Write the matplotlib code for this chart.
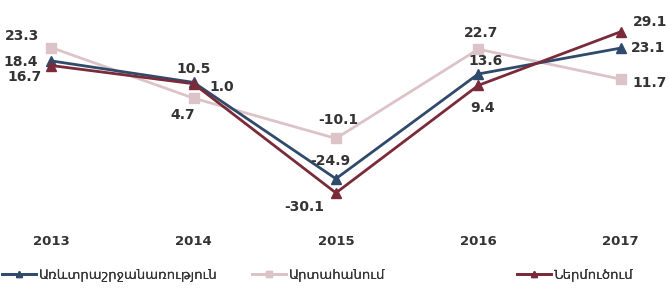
import matplotlib.pyplot as plt
import numpy as np

years = ['2013', '2014', '2015', '2016', '2017']
turnover = [18.4, 10.5, -24.9, 13.6, 23.1]
exports = [23.3, 4.7, -10.1, 22.7, 11.7]
imports = [16.7, 10.0, -30.1, 9.4, 29.1]
imports_text = ['16.7', '1.0', '-30.1', '9.4', '29.1']

names = ['Առևտրաշրջանառություն', 'Արտահանում', 'Ներմուծում']
colors = ['#2f4a6b', '#dcc3c8', '#7a2a38']
txt = '#333333'

plt.rcParams['font.family'] = ['DejaVu Sans']

fig = plt.figure(figsize=(6.69, 2.93), dpi=100)
ax = fig.add_axes([0, 68 / 293, 1, 215 / 293])
x = np.arange(len(years))

ax.plot(x, turnover, color=colors[0], lw=2, marker='^', ms=7, label=names[0], zorder=3)
ax.plot(x, exports, color=colors[1], lw=2, marker='s', ms=7, label=names[1], zorder=2)
ax.plot(x, imports, color=colors[2], lw=2, marker='^', ms=7, label=names[2], zorder=4)

# label offsets in points (dx, dy)
off_turn = [(-22, -1), (0, 10), (-4, 13), (5, 9), (20, 0)]
off_exp = [(-21, 8), (-8, -12), (2, 13), (2, 12), (21, -3)]
off_imp = [(-19, -8), (20, -2), (-23, -10), (3, -16), (21, 7)]

def label(vals, texts, offs):
    for i, v in enumerate(vals):
        ax.annotate(texts[i], (x[i], v), xytext=offs[i], textcoords='offset points',
                    ha='center', va='center', fontsize=10, fontweight='bold', color=txt)

label(turnover, ['%.1f' % v for v in turnover], off_turn)
label(exports, ['%.1f' % v for v in exports], off_exp)
label(imports, imports_text, off_imp)

ax.set_xlim(-0.36, 4.34)
ax.set_ylim(-41.9, 37.1)
ax.set_xticks(x)
ax.set_xticklabels(years, fontsize=9.5, fontweight='bold', color=txt)
ax.tick_params(length=0, pad=7)
ax.set_yticks([])
for s in ax.spines.values():
    s.set_visible(False)

# one legend per entry, spaced like the original
handles, labels = ax.get_legend_handles_labels()
for h, l, xpos in zip(handles, labels, [2, 252, 517]):
    leg = fig.legend([h], [l], loc='center left', bbox_to_anchor=(xpos / 669, 18 / 293),
                     frameon=False, fontsize=9.5, handlelength=2.6, handletextpad=0.2,
                     labelcolor=txt, markerscale=0.6, borderaxespad=0, borderpad=0)
    fig.add_artist(leg)

plt.savefig('out.png', dpi=100)
